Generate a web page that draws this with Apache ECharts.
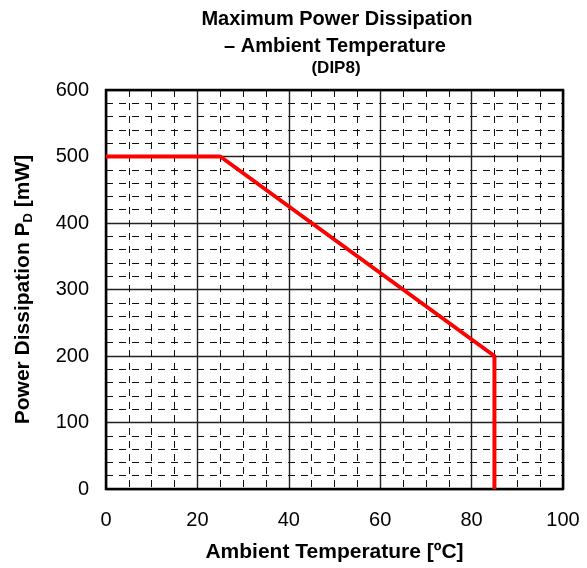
<!DOCTYPE html>
<html>
<head>
<meta charset="utf-8">
<script src="https://cdn.jsdelivr.net/npm/echarts@6/dist/echarts.min.js"></script>
<style>
html,body{margin:0;padding:0;background:#fff;}
#chart{width:587px;height:568px;}
</style>
</head>
<body>
<div id="chart"></div>
<script>
// Data
var temperature = [0, 25, 85, 85];      // Ambient temperature (°C)
var powerDissipation = [500, 500, 200, 0]; // Power dissipation P_D (mW)
var xTicks = [0, 20, 40, 60, 80, 100];
var yTicks = [0, 100, 200, 300, 400, 500, 600];
var titleLines = ['Maximum Power Dissipation', '– Ambient Temperature', '(DIP8)'];

var seriesData = temperature.map(function (t, i) { return [t, powerDissipation[i]]; });
var FONT = '"Liberation Sans", Arial, sans-serif';

var chart = echarts.init(document.getElementById('chart'), null, {renderer: 'canvas'});
var minorStyle = {color: '#111', width: 1, type: [7, 6]};
chart.setOption({
  animation: false,
  backgroundColor: '#fff',
  title: [
    {text: titleLines[0], left: 337, top: 9, textAlign: 'center', padding: 0,
     textStyle: {fontFamily: FONT, fontSize: 20, fontWeight: 'bold', color: '#000'}},
    {text: titleLines[1], left: 335, top: 36, textAlign: 'center', padding: 0,
     textStyle: {fontFamily: FONT, fontSize: 20, fontWeight: 'bold', color: '#000'}},
    {text: titleLines[2], left: 336, top: 60, textAlign: 'center', padding: 0,
     textStyle: {fontFamily: FONT, fontSize: 17, fontWeight: 'bold', color: '#000'}}
  ],
  grid: {left: 106, right: 24, top: 90, bottom: 79, show: true,
         borderColor: '#000', borderWidth: 2.5, backgroundColor: 'transparent', z: 3},
  xAxis: {
    type: 'value', min: xTicks[0], max: xTicks[xTicks.length - 1], interval: 20,
    name: 'Ambient Temperature [ºC]', nameLocation: 'middle', nameGap: 53,
    nameTextStyle: {fontFamily: FONT, fontSize: 21, fontWeight: 'bold', color: '#000'},
    axisLine: {show: false}, axisTick: {show: false},
    axisLabel: {fontFamily: FONT, fontSize: 20, color: '#000', margin: 21},
    splitLine: {show: true, lineStyle: {color: '#222', width: 1.4}},
    minorTick: {show: false, splitNumber: 4},
    minorSplitLine: {show: true, lineStyle: minorStyle}
  },
  yAxis: {
    type: 'value', min: yTicks[0], max: yTicks[yTicks.length - 1], interval: 100,
    name: 'Power Dissipation P{sub|D} [mW]', nameLocation: 'middle', nameGap: 71, nameRotate: 90,
    nameTextStyle: {fontFamily: FONT, fontSize: 21, fontWeight: 'bold', color: '#000',
      rich: {sub: {fontFamily: FONT, fontSize: 13, fontWeight: 'bold', color: '#000', verticalAlign: 'bottom', padding: [10, 0, 0, 0]}}},
    axisLine: {show: false}, axisTick: {show: false},
    axisLabel: {fontFamily: FONT, fontSize: 20, color: '#000', margin: 17},
    splitLine: {show: true, lineStyle: {color: '#222', width: 1.4}},
    minorTick: {show: false, splitNumber: 5},
    minorSplitLine: {show: true, lineStyle: minorStyle}
  },
  series: [{
    type: 'line', data: seriesData, showSymbol: false, symbol: 'none',
    lineStyle: {color: '#ff0000', width: 4}, itemStyle: {color: '#ff0000'}, z: 5
  }]
});
</script>
</body>
</html>
